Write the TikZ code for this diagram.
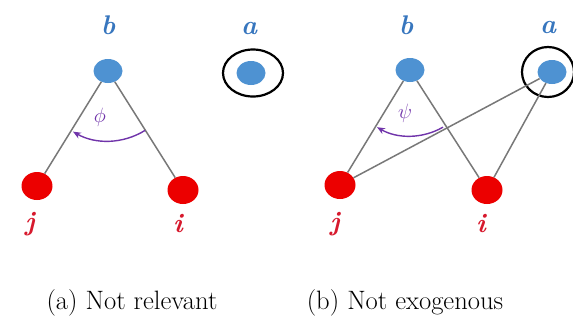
\documentclass[tikz,border=0pt]{standalone}
\usetikzlibrary{shapes.geometric,arrows.meta}
\definecolor{nodeblue}{RGB}{78,146,210}
\definecolor{labelblue}{RGB}{55,118,190}
\definecolor{nodered}{RGB}{236,0,0}
\definecolor{labelred}{RGB}{215,25,45}
\definecolor{arcpurple}{RGB}{112,52,170}
\definecolor{edgegray}{RGB}{120,120,120}
\begin{document}
\begin{tikzpicture}[x=1pt,y=1pt,
  bnode/.style={ellipse,fill=nodeblue,minimum width=29pt,minimum height=24pt,inner sep=0pt},
  rnode/.style={ellipse,fill=nodered,minimum width=31pt,minimum height=28pt,inner sep=0pt},
  ring/.style={ellipse,draw=black,line width=2.2pt,inner sep=0pt},
  edge/.style={draw=edgegray,line width=1.5pt},
  blab/.style={text=labelblue,font=\fontsize{27}{30}\selectfont\bfseries\itshape},
  rlab/.style={text=labelred,font=\fontsize{27}{30}\selectfont\bfseries\itshape},
  anglab/.style={text=arcpurple,font=\fontsize{21}{24}\selectfont},
  anglearc/.style={draw=arcpurple,line width=1.4pt,-{Stealth[length=8pt,width=6.5pt]}},
  captext/.style={font=\fontsize{26.6}{30}\selectfont}]
\useasboundingbox (0,0) rectangle (573,-325);
% panel (a)
\node[bnode] (b1) at (108,-71) {};
\node[bnode] (a1) at (251,-73) {};
\node[ring,minimum width=60pt,minimum height=47pt] (ra1) at (253,-73) {};
\node[rnode] (j1) at (37,-186) {};
\node[rnode] (i1) at (183,-190) {};
\draw[edge] (b1) -- (j1);
\draw[edge] (b1) -- (i1);
\node[blab] (lb1) at (108,-25) {b};
\node[blab] (la1) at (249,-29) {a};
\node[rlab] (lj1) at (30,-224) {j};
\node[rlab] (li1) at (178,-224) {i};
\draw[anglearc] ([shift={(-58:70)}]b1.center) arc (-58:-120:70);
\node[anglab] (phi1) at (100,-117) {$\phi$};
\node[captext] (cap1) at (132,-303) {(a) Not relevant};
% panel (b)
\node[bnode] (b2) at (410,-70) {};
\node[bnode] (a2) at (552,-72) {};
\node[ring,minimum width=52pt,minimum height=50pt] (ra2) at (548,-72) {};
\node[rnode] (j2) at (340,-185) {};
\node[rnode] (i2) at (487,-190) {};
\draw[edge] (b2) -- (j2);
\draw[edge] (b2) -- (i2);
\draw[edge] (a2) -- (j2);
\draw[edge] (a2) -- (i2);
\node[blab] (lb2) at (406,-25) {b};
\node[blab] (la2) at (548,-28) {a};
\node[rlab] (lj2) at (335,-224) {j};
\node[rlab] (li2) at (481,-224) {i};
\draw[anglearc] ([shift={(-60:66)}]b2.center) arc (-60:-120:66);
\node[anglab] (psi2) at (405,-113) {$\psi$};
\node[captext] (cap2) at (405,-303) {(b) Not exogenous};
\end{tikzpicture}
\end{document}
